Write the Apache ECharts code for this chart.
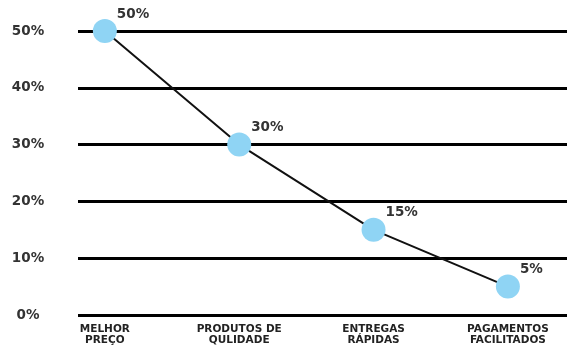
<!DOCTYPE html>
<html>
<head>
<meta charset="utf-8">
<script src="https://cdn.jsdelivr.net/npm/echarts@6/dist/echarts.min.js"></script>
<style>html,body{margin:0;padding:0;background:#fff}#c{width:567px;height:353px}</style>
</head>
<body>
<div id="c"></div>
<script>
const categories = ['MELHOR\nPREÇO', 'PRODUTOS DE\nQULIDADE', 'ENTREGAS\nRÁPIDAS', 'PAGAMENTOS\nFACILITADOS'];
const values = [50, 30, 15, 5];
const yTicks = [0, 10, 20, 30, 40, 50];

const chart = echarts.init(document.getElementById('c'), null, {renderer: 'canvas'});
const font = '"DejaVu Sans", sans-serif';
chart.setOption({
  animation: false,
  grid: {left: 78, right: 0, top: 31, bottom: 38, containLabel: false},
  xAxis: {
    type: 'value',
    min: -0.2,
    max: 3.44,
    axisLine: {show: false},
    axisTick: {show: false},
    splitLine: {show: false},
    axisLabel: {
      customValues: categories.map((c, i) => i),
      formatter: v => categories[Math.round(v)] || '',
      fontFamily: font, fontWeight: 'bold', fontSize: 10.5, color: '#222',
      lineHeight: 11, margin: 9
    }
  },
  yAxis: {
    type: 'value',
    min: yTicks[0], max: yTicks[yTicks.length - 1], interval: 10,
    axisLine: {show: false},
    axisTick: {show: false},
    splitLine: {show: true, lineStyle: {color: '#000', width: 3}},
    axisLabel: {
      formatter: v => v + '%', align: 'center', margin: 50,
      fontFamily: font, fontWeight: 'bold', fontSize: 13.5, color: '#333'
    }
  },
  series: [{
    type: 'line',
    data: values.map((v, i) => [i, v]),
    symbol: 'circle',
    symbolSize: 24,
    itemStyle: {color: '#8fd4f4'},
    lineStyle: {color: '#111', width: 2},
    label: {
      show: true, position: 'right', distance: 0, offset: [0, -17],
      formatter: p => p.value[1] + '%',
      fontFamily: font, fontWeight: 'bold', fontSize: 13.5, color: '#333'
    },
    z: 3
  }]
});
</script>
</body>
</html>
